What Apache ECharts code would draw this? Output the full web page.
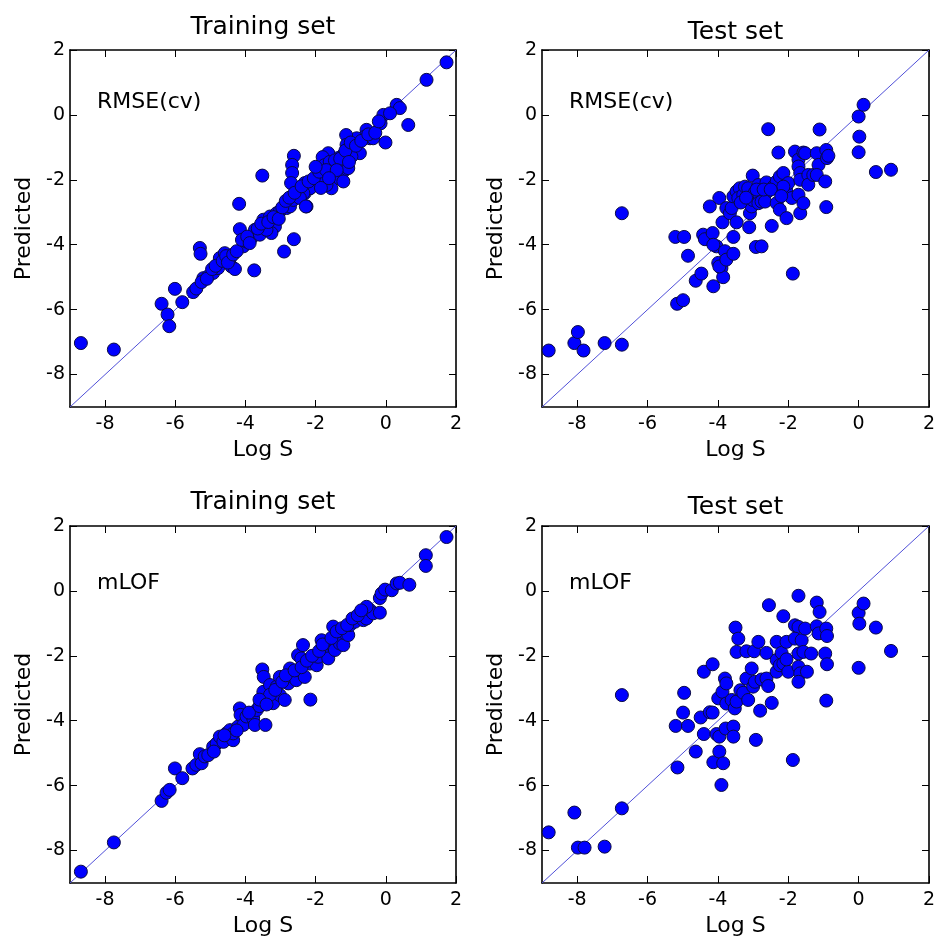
<!DOCTYPE html>
<html>
<head>
<meta charset="utf-8">
<script src="https://cdn.jsdelivr.net/npm/echarts@6/dist/echarts.min.js"></script>
<style>
  html, body { margin: 0; padding: 0; background: #fff; }
  #chart { width: 940px; height: 940px; }
</style>
</head>
<body>
<div id="chart"></div>
<script>
// axis range and ticks (same for every panel)
const axisMin = -9
const axisMax = 2
const tickValues = [-8, -6, -4, -2, 0, 2]

const panelTitles = ['Training set', 'Test set', 'Training set', 'Test set']
const panelNotes = ['RMSE(cv)', 'RMSE(cv)', 'mLOF', 'mLOF']
const xName = 'Log S'
const yName = 'Predicted'

// [Log S, Predicted]
const trainCv = [
  [-8.69, -7.03], [-7.75, -7.23], [-6.39, -5.82], [-6.22, -6.15], [-6.17, -6.51], [-6.01, -5.36], [-5.80, -5.77], [-5.49, -5.46],
  [-5.30, -4.10], [-5.28, -4.28], [-5.20, -5.03], [-5.06, -4.97], [-4.92, -4.87], [-4.78, -4.72], [-4.73, -4.41], [-4.59, -4.26],
  [-4.44, -4.41], [-4.40, -4.67], [-4.30, -4.75], [-4.18, -2.74], [-4.16, -3.52], [-4.06, -4.05], [-3.97, -3.90], [-3.83, -3.79],
  [-3.73, -3.54], [-3.59, -3.69], [-3.75, -4.79], [-3.49, -3.23], [-3.45, -3.44], [-3.30, -3.13], [-3.16, -3.44], [-3.11, -3.03],
  [-3.02, -2.97], [-3.26, -3.64], [-3.40, -3.54], [-2.90, -4.21], [-2.62, -3.83], [-2.83, -2.87], [-2.73, -2.82], [-2.64, -2.62],
  [-2.50, -2.51], [-2.45, -2.31], [-2.31, -2.41], [-2.26, -2.82], [-2.16, -2.26], [-1.97, -2.10], [-1.78, -2.05], [-3.52, -1.87],
  [0.31, 0.31], [0.40, 0.21], [-0.07, 0.00], [0.12, 0.05], [-0.15, -0.26], [0.64, -0.31], [-0.55, -0.46], [-0.45, -0.72],
  [-0.60, -0.67], [-0.83, -0.72], [-1.13, -0.62], [-0.01, -0.85], [-0.36, -0.72], [-0.93, -1.03], [-1.12, -0.92], [-0.74, -1.18],
  [-0.98, -1.28], [-1.21, -1.23], [-1.36, -1.33], [-1.64, -1.18], [-1.80, -1.30], [-2.62, -1.26], [-2.67, -1.54], [-2.67, -1.79],
  [-2.70, -2.10], [-1.50, -1.59], [-1.21, -1.74], [-1.07, -1.64], [-1.36, -1.95], [-1.21, -2.05], [-1.55, -2.26], [-1.69, -2.16],
  [-1.83, -1.90], [-1.93, -2.05], [-2.07, -2.10], [-2.16, -2.26], [-2.31, -2.10], [-2.35, -2.41], [-2.45, -2.56], [-2.28, -2.82],
  [1.16, 1.08], [1.73, 1.62], [-5.40, -5.35], [-5.25, -5.15], [-5.10, -5.05], [-4.95, -4.75], [-4.85, -4.65], [-4.65, -4.50],
  [-4.55, -4.35], [-4.50, -4.55], [-4.35, -4.30], [-4.25, -4.20], [-4.10, -3.85], [-3.95, -3.75], [-3.88, -3.95], [-3.65, -3.50],
  [-3.55, -3.35], [-3.35, -3.30], [-3.20, -3.15], [-3.05, -3.20], [-2.95, -2.85], [-2.85, -2.65], [-2.75, -2.55], [-2.60, -2.40],
  [-2.40, -2.20], [-2.20, -2.05], [-2.05, -1.95], [-1.90, -1.75], [-1.75, -1.55], [-1.60, -1.45], [-1.45, -1.40], [-1.30, -1.35],
  [-1.15, -1.10], [-1.00, -0.85], [-0.85, -0.95], [-0.70, -0.80], [-0.50, -0.60], [-0.30, -0.55], [-0.20, -0.20], [-1.70, -1.70],
  [-1.85, -2.25], [-1.40, -1.70], [-1.05, -1.45], [-2.00, -1.60], [-1.62, -1.95]
]

const testCv = [
  [-8.81, -7.26], [-8.08, -7.03], [-7.98, -6.69], [-7.82, -7.26], [-7.22, -7.03], [-6.73, -7.08], [-6.73, -3.03],
  [-5.21, -3.76], [-4.96, -3.76], [-4.85, -4.34], [-5.16, -5.82], [-4.99, -5.71], [-4.63, -5.11], [-4.47, -4.89],
  [-4.42, -3.69], [-4.37, -3.83], [-4.15, -3.64], [-4.23, -2.82], [-4.13, -5.28], [-4.04, -4.05], [-4.13, -4.00], [-3.96, -2.56],
  [-3.99, -4.56], [-3.90, -4.72], [-3.85, -5.00], [-3.96, -4.67], [-3.87, -3.31], [-3.80, -4.20], [-3.76, -4.46], [-3.56, -4.28],
  [-3.76, -2.87], [-3.66, -3.03], [-3.61, -2.87], [-3.56, -3.76], [-3.47, -3.31], [-3.56, -2.51], [-3.47, -2.36], [-3.38, -2.26],
  [-3.42, -2.56], [-3.28, -2.46], [-3.23, -2.21], [-3.14, -2.26], [-3.11, -3.46], [-3.09, -3.03], [-3.04, -2.82], [-3.01, -2.62],
  [-3.01, -1.87], [-2.95, -2.39], [-2.85, -2.16], [-2.81, -2.51], [-2.92, -4.07], [-2.76, -4.05], [-2.85, -2.72], [-2.76, -2.67],
  [-2.57, -0.44], [-2.62, -2.08], [-2.62, -2.39], [-2.47, -3.42], [-2.66, -2.67], [-2.42, -2.21], [-2.33, -2.05], [-2.24, -1.90],
  [-2.28, -1.16], [-2.33, -2.72], [-2.24, -2.92], [-2.14, -1.79], [-2.06, -2.31], [-2.00, -2.10], [-2.14, -2.21], [-2.05, -3.18],
  [-1.90, -2.56], [-1.87, -4.89], [-1.81, -1.13], [-1.71, -1.38], [-1.71, -1.59], [-1.66, -1.79], [-1.66, -2.00], [-1.71, -2.46],
  [-1.66, -3.03], [-1.57, -2.72], [-1.57, -1.16], [-1.52, -1.18], [-1.43, -1.85], [-1.43, -2.15], [-1.29, -1.85], [-1.19, -1.18],
  [-1.14, -1.54], [-1.19, -1.85], [-1.11, -0.45], [-0.92, -1.08], [-0.90, -1.33], [-0.95, -2.05], [-0.92, -2.84], [-0.86, -1.26],
  [0.00, -0.05], [0.02, -0.67], [0.00, -1.15], [0.14, 0.31], [0.49, -1.76], [0.92, -1.69],
  [-3.35, -2.70], [-3.20, -2.55], [-2.90, -2.30], [-2.70, -2.30], [-2.50, -2.30], [-2.20, -2.50]
]

const trainLof = [
  [-8.69, -8.65], [-7.75, -7.75], [-6.39, -6.47], [-6.25, -6.22], [-6.16, -6.13], [-6.01, -5.47], [-5.80, -5.77],
  [-5.51, -5.47], [-5.40, -5.36], [-5.30, -5.03], [-5.25, -5.31], [-5.16, -5.10], [-5.06, -5.06],
  [-4.92, -4.80], [-4.82, -4.70], [-4.73, -4.49], [-4.63, -4.65], [-4.54, -4.39], [-4.44, -4.29], [-4.35, -4.60],
  [-4.35, -4.39], [-4.21, -4.18], [-4.16, -3.62], [-4.14, -3.82], [-4.06, -4.13], [-3.97, -3.87], [-3.83, -3.77], [-3.78, -3.92],
  [-3.73, -4.13], [-3.68, -3.67], [-3.52, -2.42], [-3.48, -2.65], [-3.43, -4.13], [-3.49, -3.11], [-3.39, -3.36], [-3.30, -2.90],
  [-3.21, -3.46], [-3.11, -2.95], [-3.02, -3.21], [-3.02, -2.65], [-2.88, -3.36], [-2.78, -2.85], [-2.73, -2.39], [-2.64, -2.65],
  [-2.55, -2.75], [-2.50, -2.44], [-2.50, -1.98], [-2.41, -2.08], [-2.36, -1.67], [-2.31, -2.65], [-2.17, -2.24], [-2.15, -3.35],
  [-1.97, -2.29], [-1.93, -2.03], [-1.83, -1.52], [-1.74, -1.77], [-1.64, -2.08], [-1.64, -1.62], [-1.50, -1.10], [-1.50, -1.51],
  [-1.45, -1.82], [-1.35, -1.36], [-1.31, -1.62], [-1.21, -1.67], [-1.16, -1.31], [-1.07, -1.36], [-1.02, -1.05], [-0.88, -0.95],
  [-0.74, -0.79], [-0.64, -0.90], [-0.55, -0.85], [-0.45, -0.59], [-0.36, -0.69], [-0.17, -0.67], [-0.55, -0.49],
  [-0.17, -0.22], [-0.12, -0.08], [-0.02, 0.04], [0.17, 0.02], [0.31, 0.23], [0.40, 0.25], [0.67, 0.19],
  [1.14, 1.10], [1.14, 0.77], [1.73, 1.66],
  [-4.90, -4.95], [-4.60, -4.45], [-4.25, -4.30], [-3.90, -3.75], [-3.60, -3.55], [-3.30, -3.20], [-3.15, -3.05], [-2.95, -2.80],
  [-2.85, -2.60], [-2.60, -2.45], [-2.40, -2.35], [-2.25, -2.15], [-2.10, -2.00], [-1.90, -1.85], [-1.80, -1.65], [-1.55, -1.45],
  [-1.40, -1.25], [-1.25, -1.15], [-1.10, -1.05], [-0.95, -0.85], [-0.80, -0.75], [-0.70, -0.60], [-3.60, -3.35], [-3.40, -3.50]
]

const testLof = [
  [-8.81, -7.44], [-8.08, -6.83], [-7.98, -7.91], [-7.79, -7.91], [-7.22, -7.88], [-6.73, -6.70], [-6.73, -3.21],
  [-5.20, -4.16], [-5.15, -5.44], [-4.96, -3.14], [-4.99, -3.75], [-4.85, -4.16], [-4.63, -4.95], [-4.49, -3.90], [-4.40, -2.49],
  [-4.40, -4.41], [-4.23, -3.74], [-4.15, -3.75], [-4.15, -2.26], [-4.13, -5.28], [-4.04, -4.41], [-3.96, -4.49], [-3.99, -3.31],
  [-3.96, -4.95], [-3.90, -5.98], [-3.85, -5.31], [-3.87, -3.11], [-3.80, -2.70], [-3.76, -2.85], [-3.78, -4.24], [-3.56, -4.18],
  [-3.56, -4.49], [-3.76, -3.47], [-3.61, -3.36], [-3.52, -3.62], [-3.47, -3.41], [-3.50, -1.13], [-3.42, -1.47], [-3.47, -1.88],
  [-3.19, -1.86], [-2.97, -1.86], [-3.36, -3.06], [-3.28, -3.14], [-3.14, -3.36], [-3.19, -2.70], [-3.04, -2.39], [-3.00, -2.95],
  [-2.95, -2.80], [-2.85, -1.57], [-2.92, -4.59], [-2.80, -3.69], [-2.76, -2.73], [-2.62, -2.70], [-2.57, -2.93], [-2.62, -1.91],
  [-2.55, -0.44], [-2.47, -3.45], [-2.33, -1.57], [-2.33, -2.13], [-2.33, -2.49], [-2.24, -2.29], [-2.14, -0.78], [-2.19, -1.91],
  [-2.14, -2.24], [-2.05, -1.57], [-2.00, -2.49], [-2.05, -2.11], [-1.87, -5.21], [-1.71, -0.15], [-1.81, -1.06], [-1.71, -1.11],
  [-1.81, -1.47], [-1.71, -1.93], [-1.71, -2.34], [-1.66, -2.54], [-1.71, -2.80], [-1.62, -1.52], [-1.57, -1.88], [-1.52, -1.16],
  [-1.47, -2.49], [-1.35, -1.93], [-1.19, -0.36], [-1.11, -0.65], [-1.19, -1.09], [-1.14, -1.31], [-0.92, -1.16], [-0.90, -1.39],
  [-0.95, -1.93], [-0.90, -2.26], [-0.92, -3.38], [0.00, -0.68], [0.02, -1.01], [0.00, -2.37], [0.14, -0.39], [0.49, -1.13],
  [0.92, -1.85]
]

const panelData = [trainCv, testCv, trainLof, testLof]

const font = 'DejaVu Sans'
const grids = [
  { left: 70, top: 50, width: 386, height: 357 },
  { left: 542, top: 50, width: 387, height: 357 },
  { left: 70, top: 526, width: 386, height: 357 },
  { left: 542, top: 526, width: 387, height: 357 }
]
const titleY = [27, 32, 502, 507]
const noteY = [102, 102, 583, 583]

function makeAxis (gridIndex, position, main, isX) {
  return {
    type: 'value',
    gridIndex: gridIndex,
    position: position,
    min: axisMin,
    max: axisMax,
    name: main ? (isX ? xName : yName) : '',
    nameLocation: 'middle',
    nameGap: isX ? 32 : 35,
    nameTextStyle: { fontFamily: font, fontSize: 22, color: '#000' },
    axisLine: { show: true, onZero: false, lineStyle: { color: '#000', width: 1.6 } },
    axisTick: { show: true, inside: true, length: 7, customValues: tickValues, lineStyle: { color: '#000', width: 1 } },
    axisLabel: { show: main, customValues: tickValues, margin: isX ? 8 : 5, fontFamily: font, fontSize: 19, color: '#000' },
    splitLine: { show: false }
  }
}

let xAxes = []
let yAxes = []
let series = []
let graphics = []
grids.forEach((g, i) => {
  xAxes.push(makeAxis(i, 'bottom', true, true))
  xAxes.push(makeAxis(i, 'top', false, true))
  yAxes.push(makeAxis(i, 'left', true, false))
  yAxes.push(makeAxis(i, 'right', false, false))
  // y = x reference line
  series.push({
    type: 'line',
    xAxisIndex: 2 * i,
    yAxisIndex: 2 * i,
    data: [[axisMin, axisMin], [axisMax, axisMax]],
    symbol: 'none',
    silent: true,
    lineStyle: { color: '#5050d8', width: 1 },
    z: 1
  })
  series.push({
    type: 'scatter',
    xAxisIndex: 2 * i,
    yAxisIndex: 2 * i,
    data: panelData[i],
    symbolSize: 13,
    itemStyle: { color: '#0000ff', borderColor: '#0a0a45', borderWidth: 1, opacity: 1 },
    z: 2
  })
  graphics.push({
    type: 'text',
    x: g.left + g.width / 2,
    y: titleY[i],
    style: { text: panelTitles[i], font: '25px "DejaVu Sans"', fill: '#000', textAlign: 'center', textVerticalAlign: 'middle' }
  })
  graphics.push({
    type: 'text',
    x: g.left + 27,
    y: noteY[i],
    style: { text: panelNotes[i], font: '22px "DejaVu Sans"', fill: '#000', textAlign: 'left', textVerticalAlign: 'middle' }
  })
})

const chart = echarts.init(document.getElementById('chart'), null, { renderer: 'canvas' })
chart.setOption({
  backgroundColor: '#fff',
  animation: false,
  grid: grids,
  xAxis: xAxes,
  yAxis: yAxes,
  series: series,
  graphic: graphics
})
</script>
</body>
</html>
